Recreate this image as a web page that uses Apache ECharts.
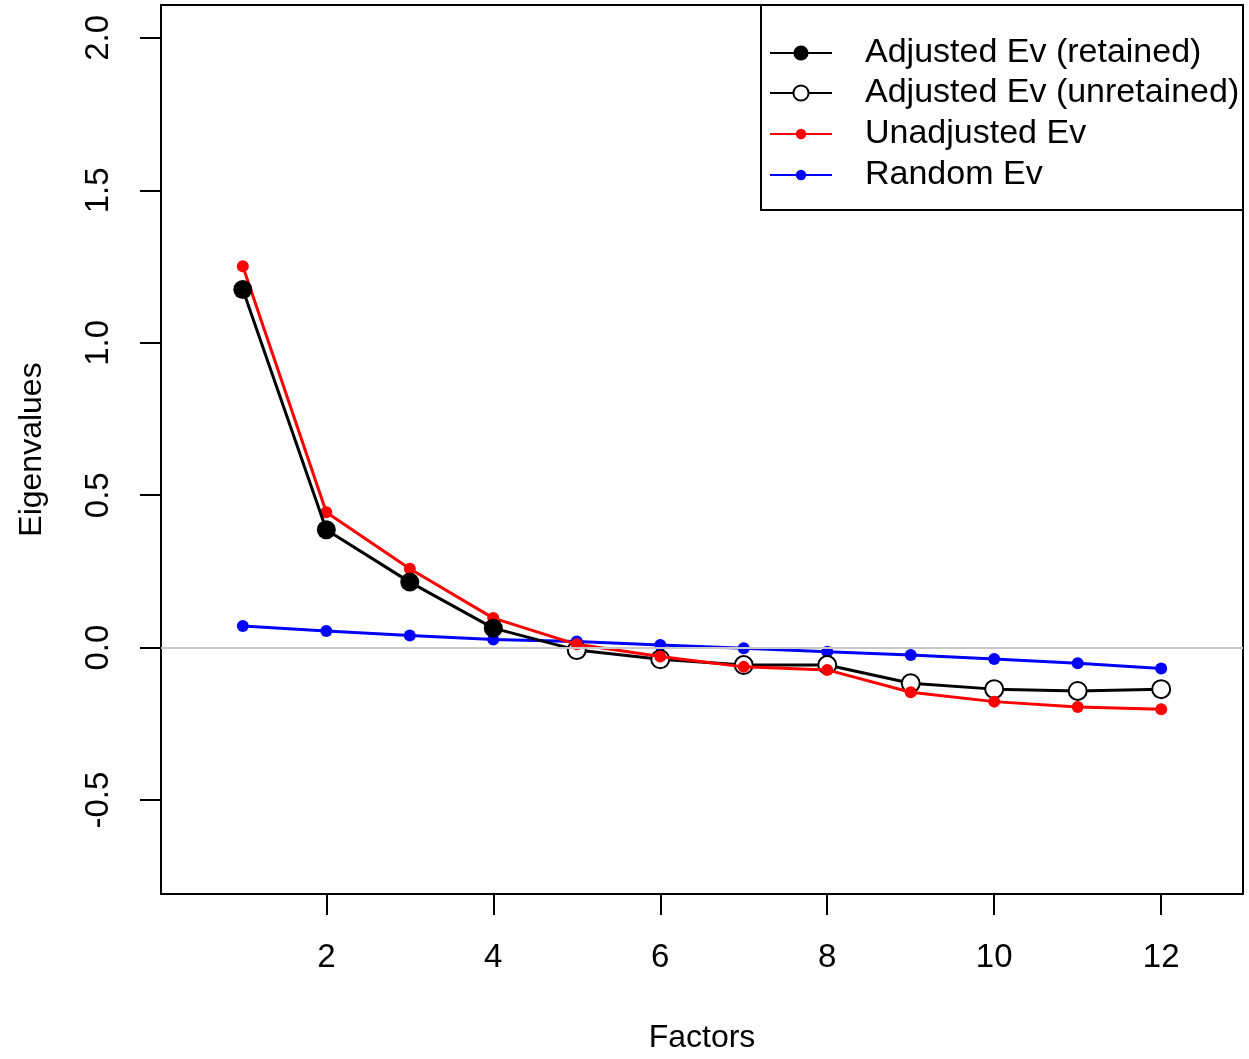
<!DOCTYPE html>
<html>
<head>
<meta charset="utf-8">
<script src="https://cdn.jsdelivr.net/npm/echarts@6/dist/echarts.min.js"></script>
<style>
html,body{margin:0;padding:0;background:#fff;}
#chart{width:1249px;height:1059px;}
</style>
</head>
<body>
<div id="chart"></div>
<script>
const factors = [1,2,3,4,5,6,7,8,9,10,11,12];
const adjustedEv = [1.175,0.387,0.215,0.064,-0.008,-0.038,-0.057,-0.057,-0.117,-0.136,-0.142,-0.136];
const unadjustedEv = [1.251,0.444,0.259,0.097,0.011,-0.029,-0.063,-0.073,-0.146,-0.177,-0.195,-0.202];
const randomEv = [0.071,0.055,0.040,0.027,0.020,0.009,-0.002,-0.013,-0.024,-0.037,-0.051,-0.068];
const retainedCount = 4;
const xTicks = [2,4,6,8,10,12];
const yTicks = [-0.5,0,0.5,1.0,1.5,2.0];

const FONT = 'Liberation Sans, Arial, sans-serif';
const pts = (arr) => factors.map((f,i)=>[f,arr[i]]);
const retainedData = factors.slice(0,retainedCount).map((f,i)=>[f,adjustedEv[i]]);
const unretainedData = factors.slice(retainedCount-1).map((f,j)=>{
  const i = j + retainedCount - 1;
  return i === retainedCount-1 ? {value:[f,adjustedEv[i]], symbol:'none'} : [f,adjustedEv[i]];
});

const chart = echarts.init(document.getElementById('chart'));
const legendBase = {
  orient:'vertical', left:764, itemWidth:62,
  textStyle:{fontFamily:FONT, fontSize:34, color:'#000', padding:[0,0,0,28]},
  inactiveColor:'#000'
};
chart.setOption({
  animation:false,
  backgroundColor:'#fff',
  grid:{left:161, right:6, top:5, bottom:162, show:true, borderColor:'#000', borderWidth:2, backgroundColor:'transparent'},
  xAxis:{
    type:'value', min:0.02, max:12.98,
    name:'Factors', nameLocation:'middle', nameGap:128,
    nameTextStyle:{fontFamily:FONT, fontSize:32, color:'#000'},
    axisLine:{show:false, onZero:false},
    splitLine:{show:false},
    axisTick:{show:true, customValues:xTicks, length:21, inside:false, lineStyle:{color:'#000', width:2}},
    axisLabel:{customValues:xTicks, fontFamily:FONT, fontSize:33, color:'#000', margin:47}
  },
  yAxis:{
    type:'value', min:-0.808, max:2.108,
    name:'Eigenvalues', nameLocation:'middle', nameGap:113, nameRotate:90,
    nameTextStyle:{fontFamily:FONT, fontSize:32, color:'#000'},
    axisLine:{show:false, onZero:false},
    splitLine:{show:false},
    axisTick:{show:true, customValues:yTicks, length:21, inside:false, lineStyle:{color:'#000', width:2}},
    axisLabel:{customValues:yTicks, rotate:90, fontFamily:FONT, fontSize:33, color:'#000', margin:46,
      formatter:(v)=>v.toFixed(1)}
  },
  legend:[
    Object.assign({}, legendBase, {top:31, itemHeight:19, data:['Adjusted Ev (retained)']}),
    Object.assign({}, legendBase, {top:71, itemHeight:19, data:['Adjusted Ev (unretained)']}),
    Object.assign({}, legendBase, {top:112, itemHeight:13, data:['Unadjusted Ev']}),
    Object.assign({}, legendBase, {top:153, itemHeight:13, data:['Random Ev']})
  ],
  graphic:[{type:'rect', shape:{x:761, y:5, width:482, height:205}, style:{fill:'none', stroke:'#000', lineWidth:2}, z:100, silent:true}],
  series:[
    {
      name:'Random Ev', type:'line', data:pts(randomEv), z:2,
      symbol:'circle', symbolSize:12,
      lineStyle:{color:'#0000ff', width:3}, itemStyle:{color:'#0000ff'},
      markLine:{silent:true, symbol:'none', label:{show:false},
        lineStyle:{color:'#c8c8c8', width:2, type:'solid'}, data:[{yAxis:0}]}
    },
    {
      name:'Adjusted Ev (unretained)', type:'line', data:unretainedData, z:3,
      symbol:'emptyCircle', symbolSize:18,
      lineStyle:{color:'#000', width:3}, itemStyle:{color:'#000', borderColor:'#000', borderWidth:2.5}
    },
    {
      name:'Unadjusted Ev', type:'line', data:pts(unadjustedEv), z:4,
      symbol:'circle', symbolSize:12,
      lineStyle:{color:'#ff0000', width:3}, itemStyle:{color:'#ff0000'}
    },
    {
      name:'Adjusted Ev (retained)', type:'line', data:retainedData, z:5,
      symbol:'circle', symbolSize:19,
      lineStyle:{color:'#000', width:3}, itemStyle:{color:'#000'}
    }
  ]
});
</script>
</body>
</html>
